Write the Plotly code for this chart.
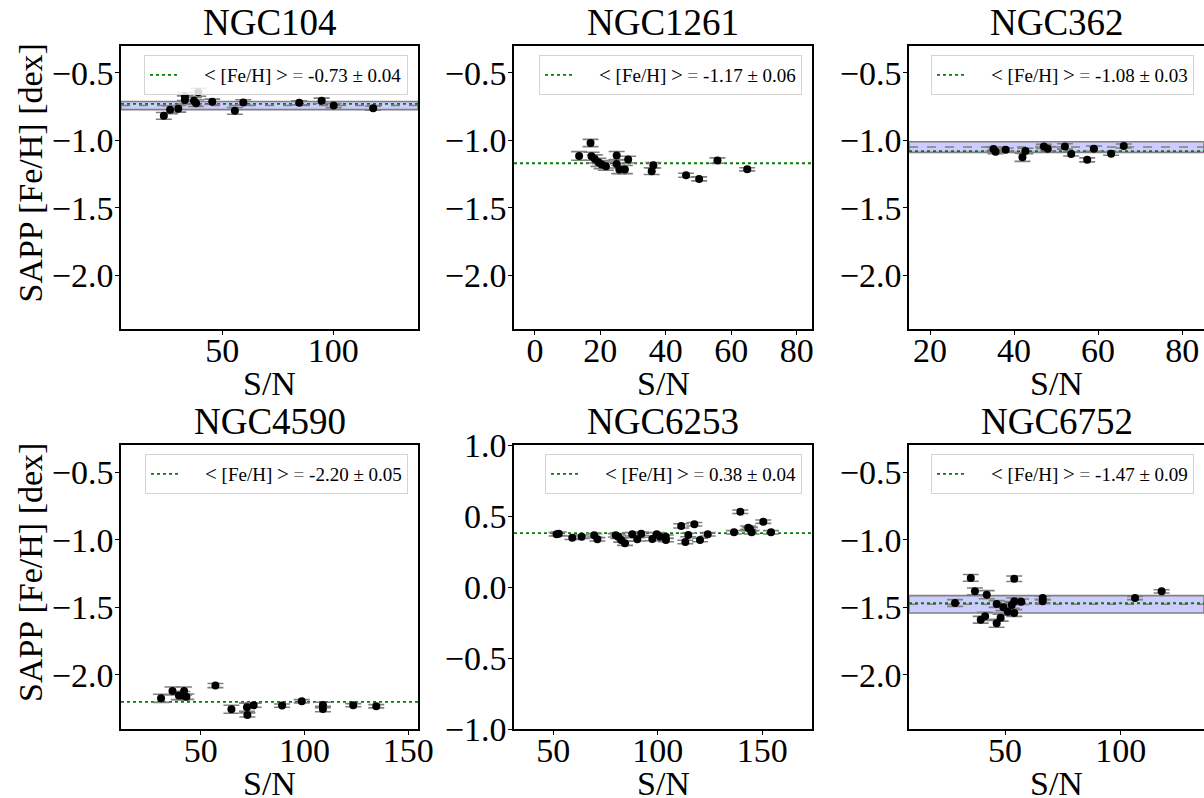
import plotly.graph_objects as go

FONT = "Liberation Serif, Times New Roman, serif"

# ---------------- data ----------------
names = ["NGC104", "NGC1261", "NGC362", "NGC4590", "NGC6253", "NGC6752"]
mean_feh = [-0.73, -1.17, -1.08, -2.20, 0.38, -1.47]
mean_err = [0.04, 0.06, 0.03, 0.05, 0.04, 0.09]

ngc104_sn = [23.7, 26.5, 30.2, 33.2, 33.2, 39.2, 37.3, 38.2, 45.5, 55.7, 59.5, 84.7, 94.8, 100.2, 118.0]
ngc104_feh = [-0.818, -0.773, -0.766, -0.675, -0.700, -0.643, -0.707, -0.724, -0.714, -0.781, -0.719,
              -0.722, -0.707, -0.742, -0.761]
ngc104_err = [0.025, 0.03, 0.025, 0.03, 0.03, 0.03, 0.025, 0.025, 0.02, 0.025, 0.02, 0.015, 0.02, 0.015, 0.015]

ngc1261_sn = [13.5, 17.0, 17.3, 18.3, 19.4, 20.4, 21.7, 25.0, 25.0, 25.8, 27.5, 28.5, 35.7, 36.2, 46.2,
              50.2, 55.8, 64.9]
ngc1261_feh = [-1.116, -1.020, -1.118, -1.138, -1.163, -1.180, -1.192, -1.113, -1.175, -1.217, -1.217,
               -1.143, -1.229, -1.185, -1.259, -1.286, -1.150, -1.215]
ngc1261_err = [0.032, 0.027, 0.03, 0.03, 0.03, 0.03, 0.03, 0.03, 0.03, 0.03, 0.03, 0.025, 0.025, 0.02,
               0.015, 0.015, 0.02, 0.012]

ngc362_sn = [35.1, 35.6, 38.0, 42.0, 42.7, 47.1, 48.0, 52.1, 53.6, 57.4, 59.0, 63.1, 66.1]
ngc362_feh = [-1.064, -1.084, -1.069, -1.126, -1.079, -1.045, -1.062, -1.045, -1.101, -1.145, -1.062,
              -1.099, -1.042]
ngc362_err = [0.015, 0.015, 0.012, 0.03, 0.02, 0.015, 0.015, 0.02, 0.015, 0.015, 0.02, 0.012, 0.015]

ngc4590_sn = [30.9, 36.4, 39.5, 42.0, 41.2, 43.1, 57.1, 64.8, 72.3, 72.5, 75.5, 89.2, 98.7, 108.9,
              108.9, 123.5, 134.6]
ngc4590_feh = [-2.173, -2.119, -2.153, -2.119, -2.153, -2.161, -2.079, -2.254, -2.239, -2.296, -2.224,
               -2.227, -2.195, -2.222, -2.252, -2.224, -2.232]
ngc4590_err = [0.03, 0.03, 0.03, 0.03, 0.03, 0.02, 0.015, 0.03, 0.03, 0.015, 0.015, 0.012, 0.012, 0.02,
               0.02, 0.012, 0.012]

ngc6253_sn = [51.6, 52.6, 59.1, 63.6, 69.6, 71.1, 79.9, 81.1, 82.5, 84.3, 87.8, 90.2, 92.1, 97.4, 99.5,
              101.1, 103.8, 103.9, 111.2, 113.2, 114.6, 117.5, 120.2, 123.9, 136.5, 139.5, 143.3,
              144.1, 144.9, 150.5, 154.2]
ngc6253_feh = [0.371, 0.375, 0.347, 0.354, 0.364, 0.336, 0.364, 0.354, 0.331, 0.308, 0.371, 0.336, 0.375,
               0.338, 0.371, 0.354, 0.354, 0.331, 0.430, 0.317, 0.366, 0.442, 0.331, 0.371, 0.385,
               0.530, 0.418, 0.408, 0.385, 0.460, 0.385]
ngc6253_err = [0.012, 0.012, 0.012, 0.012, 0.012, 0.012, 0.012, 0.012, 0.015, 0.015, 0.012, 0.012,
               0.012, 0.012, 0.012, 0.012, 0.012, 0.012, 0.015, 0.012, 0.012, 0.012, 0.012, 0.012,
               0.012, 0.012, 0.012, 0.012, 0.012, 0.012, 0.012]

ngc6752_sn = [28.4, 35.2, 37.0, 42.1, 39.5, 41.4, 46.4, 48.1, 46.4, 49.3, 51.2, 52.9, 54.0, 54.0, 54.0,
              57.0, 66.3, 66.3, 106.2, 117.7]
ngc6752_feh = [-1.468, -1.283, -1.382, -1.407, -1.592, -1.567, -1.618, -1.577, -1.476, -1.500, -1.533,
               -1.483, -1.289, -1.456, -1.542, -1.459, -1.431, -1.456, -1.431, -1.382]
ngc6752_err = [0.025, 0.025, 0.025, 0.03, 0.025, 0.03, 0.03, 0.025, 0.025, 0.025, 0.025, 0.025, 0.02,
               0.025, 0.025, 0.02, 0.015, 0.015, 0.012, 0.012]

# reference band (centre, half width); None = no band
band_centre = [-0.742, None, -1.05, None, None, -1.478]
band_half = [0.03, None, 0.039, None, None, 0.064]

sn_all = [ngc104_sn, ngc1261_sn, ngc362_sn, ngc4590_sn, ngc6253_sn, ngc6752_sn]
feh_all = [ngc104_feh, ngc1261_feh, ngc362_feh, ngc4590_feh, ngc6253_feh, ngc6752_feh]
err_all = [ngc104_err, ngc1261_err, ngc362_err, ngc4590_err, ngc6253_err, ngc6752_err]

xlims = [[4.4, 138.2], [-6.4, 84.7], [15.0, 85.2], [11.6, 154.7], [31.2, 173.8], [8.5, 136.0]]
ylims = [[-2.4, -0.3], [-2.4, -0.3], [-2.4, -0.3], [-2.4, -0.3], [-1.0, 1.0], [-2.4, -0.3]]
xticks = [[50, 100], [0, 20, 40, 60, 80], [20, 40, 60, 80], [50, 100, 150], [50, 100, 150], [50, 100]]
yticks = [[-2.0, -1.5, -1.0, -0.5]] * 4 + [[-1.0, -0.5, 0.0, 0.5, 1.0]] + [[-2.0, -1.5, -1.0, -0.5]]

# ---------------- layout geometry (pixels) ----------------
W, H = 1204, 798
col_px = [(121, 418), (514, 812), (909, 1204)]
row_px = [(46, 329), (445, 729)]


def px_x(p):
    return p / W


def px_y(p):
    return 1 - p / H


fig = go.Figure()
shapes = []
annotations = []
layout_extra = {}

for i in range(6):
    k = i + 1
    r, c = divmod(i, 3)
    xa = "x" if k == 1 else f"x{k}"
    ya = "y" if k == 1 else f"y{k}"
    lg = "legend" if k == 1 else f"legend{k}"

    if band_centre[i] is not None:
        shapes.append(dict(type="rect", xref=f"{xa} domain", yref=ya, x0=0, x1=1,
                           y0=band_centre[i] - band_half[i], y1=band_centre[i] + band_half[i],
                           fillcolor="rgba(0,0,255,0.2)", line=dict(color="#808080", width=1.6),
                           layer="below"))
        shapes.append(dict(type="line", xref=f"{xa} domain", yref=ya, x0=0, x1=1,
                           y0=band_centre[i], y1=band_centre[i],
                           line=dict(color="#808080", width=1.4, dash="dash"), layer="below"))

    label = ("&nbsp;&nbsp;&nbsp;&nbsp;<span style='font-size:21px'>&lt;</span> [Fe/H] "
             "<span style='font-size:21px'>&gt;</span> <span style='color:#777'>=</span> "
             f"{mean_feh[i]:.2f} ± {mean_err[i]:.2f}")
    fig.add_trace(go.Scatter(x=xlims[i], y=[mean_feh[i], mean_feh[i]], mode="lines",
                             line=dict(color="green", width=1.8, dash="dot"),
                             name=label, legend=lg, showlegend=True, xaxis=xa, yaxis=ya,
                             hoverinfo="skip"))
    fig.add_trace(go.Scatter(x=sn_all[i], y=feh_all[i], mode="markers",
                             marker=dict(color="black", size=8),
                             error_y=dict(type="data", array=err_all[i], color="#808080",
                                          thickness=1.6, width=8),
                             showlegend=False, xaxis=xa, yaxis=ya))

    x0, x1 = col_px[c]
    y0, y1 = row_px[r]
    axis_common = dict(showline=True, mirror=True, linecolor="black", linewidth=1.6,
                       ticks="outside", ticklen=4, tickwidth=1.3, tickcolor="black",
                       showgrid=False, zeroline=False, automargin=False,
                       tickfont=dict(family=FONT, size=34, color="black"))
    layout_extra["xaxis" if k == 1 else f"xaxis{k}"] = dict(
        domain=[px_x(x0), px_x(x1)], range=xlims[i], tickvals=xticks[i],
        ticklabelstandoff=-14, anchor=ya, **axis_common)
    layout_extra["yaxis" if k == 1 else f"yaxis{k}"] = dict(
        domain=[px_y(y1), px_y(y0)], range=ylims[i], tickvals=yticks[i], tickformat=".1f",
        ticklabelstandoff=-5, anchor=xa, **axis_common)

    layout_extra[lg] = dict(x=px_x(x1 - 10), xanchor="right", y=px_y(y0 + 9), yanchor="top",
                            bgcolor="rgba(255,255,255,0.85)", bordercolor="#d4d4d4", borderwidth=1,
                            font=dict(family=FONT, size=19, color="black"))

    # titles
    annotations.append(dict(text=names[i], x=px_x((x0 + x1) / 2), y=px_y(y0 - 24),
                            xref="paper", yref="paper", showarrow=False,
                            xanchor="center", yanchor="middle",
                            font=dict(family=FONT, size=37, color="black")))
    annotations.append(dict(text="S/N", x=px_x((x0 + x1) / 2), y=px_y(y1 + 54),
                            xref="paper", yref="paper", showarrow=False,
                            xanchor="center", yanchor="middle",
                            font=dict(family=FONT, size=34, color="black")))
    if c == 0:
        annotations.append(dict(text="SAPP [Fe/H] [dex]", x=px_x(30), y=px_y((y0 + y1) / 2 - 14),
                                xref="paper", yref="paper", showarrow=False, textangle=-90,
                                xanchor="center", yanchor="middle",
                                font=dict(family=FONT, size=34, color="black")))

fig.update_layout(template="none", width=W, height=H, margin=dict(l=0, r=0, t=0, b=0, autoexpand=False),
                  plot_bgcolor="white", paper_bgcolor="white",
                  shapes=shapes, annotations=annotations,
                  font=dict(family=FONT, color="black"), **layout_extra)

fig.write_html("out.html", config={"displayModeBar": False},
               post_script="document.body.style.margin='0px';document.body.style.overflow='hidden';")
